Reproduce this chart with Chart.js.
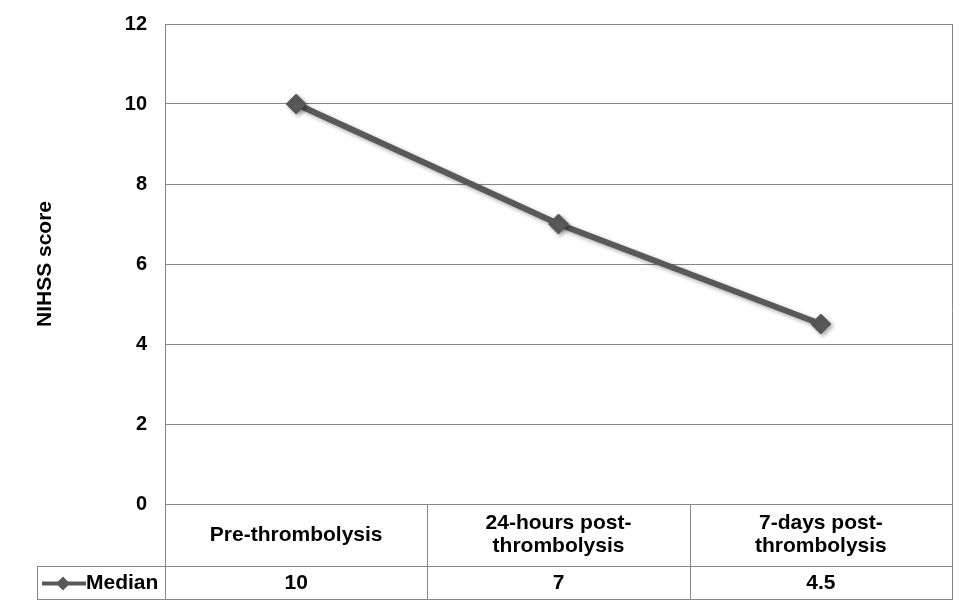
<!DOCTYPE html>
<html>
<head>
<meta charset="utf-8">
<script src="https://cdn.jsdelivr.net/npm/chart.js@4.4.1/dist/chart.umd.min.js"></script>
<style>
  html, body { margin: 0; padding: 0; background: #fff; }
  #wrap { width: 976px; height: 610px; position: relative; }
</style>
</head>
<body>
<div id="wrap"><canvas id="nihssChart" width="976" height="610"></canvas></div>
<script>
var categories = ["Pre-thrombolysis", "24-hours post-thrombolysis", "7-days post-thrombolysis"]
var headerLines = [["Pre-thrombolysis"], ["24-hours post-", "thrombolysis"], ["7-days post-", "thrombolysis"]]
var medianValues = [10, 7, 4.5]
var medianLabels = ["10", "7", "4.5"]
var seriesName = "Median"

var lineColor = "#595959"
var gridColor = "#868686"
var fontFamily = "'Liberation Sans', Arial, sans-serif"

// shadow under the line and diamonds, like the office chart
var shadowPlugin = {
    id: "shadow",
    beforeDatasetDraw: function(chart){
        var ctx = chart.ctx
        ctx.save()
        ctx.shadowColor = "rgba(0,0,0,0.35)"
        ctx.shadowBlur = 4
        ctx.shadowOffsetX = 2
        ctx.shadowOffsetY = 2
    },
    afterDatasetDraw: function(chart){
        chart.ctx.restore()
    }
}

// data table under the plot
var tablePlugin = {
    id: "dataTable",
    afterDraw: function(chart){
        var ctx = chart.ctx
        var area = chart.chartArea
        var xs = chart.scales.x
        var tableLeft = 37
        var headTop = area.bottom
        var rowTop = 566
        var rowBottom = 599

        ctx.save()
        ctx.strokeStyle = gridColor
        ctx.lineWidth = 1

        // column edges
        var edges = [area.left]
        for (var i = 0; i < categories.length - 1; i++) {
            edges.push(Math.round((xs.getPixelForValue(i) + xs.getPixelForValue(i + 1)) / 2))
        }
        edges.push(area.right)

        ctx.beginPath()
        // right border of plot and table
        ctx.moveTo(area.right + 0.5, area.top)
        ctx.lineTo(area.right + 0.5, rowBottom)
        edges.forEach(function(x){
            ctx.moveTo(x + 0.5, headTop)
            ctx.lineTo(x + 0.5, rowBottom)
        })
        ctx.moveTo(tableLeft + 0.5, rowTop)
        ctx.lineTo(tableLeft + 0.5, rowBottom)
        ctx.moveTo(tableLeft, rowTop + 0.5)
        ctx.lineTo(area.right + 1, rowTop + 0.5)
        ctx.moveTo(tableLeft, rowBottom + 0.5)
        ctx.lineTo(area.right + 1, rowBottom + 0.5)
        ctx.stroke()

        ctx.fillStyle = "#000"
        ctx.font = "bold 21px " + fontFamily
        ctx.textAlign = "center"
        ctx.textBaseline = "middle"

        var headMid = (headTop + rowTop) / 2
        headerLines.forEach(function(lines, i){
            var cx = xs.getPixelForValue(i)
            var lh = 23
            var y0 = headMid - (lines.length - 1) * lh / 2
            lines.forEach(function(t, j){
                ctx.fillText(t, cx, y0 + j * lh)
            })
        })

        var rowMid = (rowTop + rowBottom) / 2 + 1
        medianLabels.forEach(function(t, i){
            ctx.fillText(t, xs.getPixelForValue(i), rowMid)
        })

        // legend key
        ctx.strokeStyle = lineColor
        ctx.lineWidth = 4
        ctx.beginPath()
        ctx.moveTo(42, rowMid)
        ctx.lineTo(86, rowMid)
        ctx.stroke()
        ctx.fillStyle = lineColor
        ctx.beginPath()
        ctx.moveTo(63, rowMid - 7)
        ctx.lineTo(70, rowMid)
        ctx.lineTo(63, rowMid + 7)
        ctx.lineTo(56, rowMid)
        ctx.closePath()
        ctx.fill()

        ctx.fillStyle = "#000"
        ctx.textAlign = "left"
        ctx.fillText(seriesName, 86, rowMid)
        ctx.restore()
    }
}

var ctx = document.getElementById("nihssChart").getContext("2d")
var myChart = new Chart(ctx, {
    type: "line",
    data: {
        labels: categories,
        datasets: [{
            label: seriesName,
            data: medianValues,
            borderColor: lineColor,
            backgroundColor: lineColor,
            borderWidth: 6,
            pointStyle: "rectRot",
            pointRadius: 10,
            pointBorderWidth: 1,
            pointBackgroundColor: lineColor,
            pointBorderColor: lineColor,
            tension: 0
        }]
    },
    options: {
        responsive: false,
        animation: false,
        layout: { padding: { top: 24, right: 24, bottom: 106, left: 0 } },
        plugins: {
            legend: { display: false },
            tooltip: { enabled: false }
        },
        scales: {
            x: {
                display: false,
                offset: true
            },
            y: {
                min: 0,
                max: 12,
                ticks: {
                    stepSize: 2,
                    color: "#000",
                    padding: 18,
                    font: { family: fontFamily, size: 20, weight: "bold" }
                },
                grid: { color: gridColor, drawTicks: false },
                border: { color: gridColor },
                title: {
                    display: true,
                    text: "NIHSS score",
                    color: "#000",
                    padding: { top: 33, bottom: 0 },
                    font: { family: fontFamily, size: 21, weight: "bold" }
                },
                afterFit: function(scale){
                    scale.width = 165
                    scale.paddingTop = 0
                    scale.paddingBottom = 0
                }
            }
        }
    },
    plugins: [shadowPlugin, tablePlugin]
})
</script>
</body>
</html>
